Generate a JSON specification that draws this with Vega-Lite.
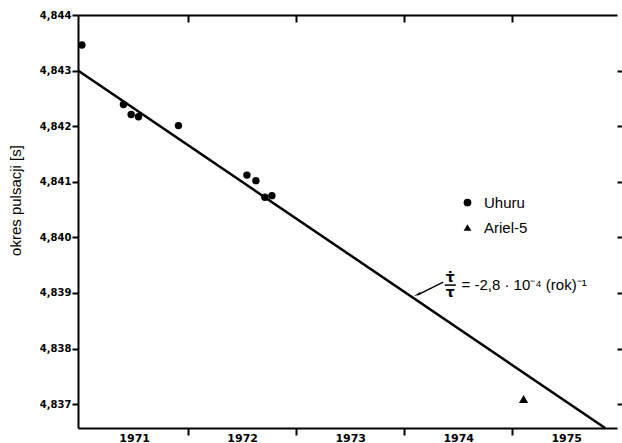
{
  "$schema": "https://vega.github.io/schema/vega-lite/v6.json",
  "width": 539,
  "height": 413,
  "autosize": "none",
  "padding": {"left": 78, "top": 15, "right": 5, "bottom": 15},
  "background": "white",
  "config": {
    "view": {"stroke": null},
    "font": "Liberation Sans",
    "axis": {
      "domainColor": "black",
      "tickColor": "black",
      "domainWidth": 2,
      "tickWidth": 2,
      "labelColor": "black",
      "titleColor": "black",
      "grid": false
    }
  },
  "datasets": {
    "pomiary": [
      {"rok": 1971.016, "okres": 4.84346, "satelita": "Uhuru"},
      {"rok": 1971.401, "okres": 4.84239, "satelita": "Uhuru"},
      {"rok": 1971.472, "okres": 4.84221, "satelita": "Uhuru"},
      {"rok": 1971.540, "okres": 4.84217, "satelita": "Uhuru"},
      {"rok": 1971.910, "okres": 4.84201, "satelita": "Uhuru"},
      {"rok": 1972.544, "okres": 4.84112, "satelita": "Uhuru"},
      {"rok": 1972.627, "okres": 4.84102, "satelita": "Uhuru"},
      {"rok": 1972.710, "okres": 4.84072, "satelita": "Uhuru"},
      {"rok": 1972.775, "okres": 4.84075, "satelita": "Uhuru"},
      {"rok": 1975.105, "okres": 4.83709, "satelita": "Ariel-5"}
    ],
    "dopasowanie": [
      {"rok": 1970.98, "okres": 4.84300},
      {"rok": 1975.86, "okres": 4.83657}
    ],
    "adnotacja": [{}]
  },
  "layer": [
    {
      "data": {"name": "pomiary"},
      "mark": {"type": "point", "filled": true, "color": "black", "opacity": 1},
      "encoding": {
        "x": {
          "field": "rok", "type": "quantitative",
          "scale": {"domain": [1970.98, 1975.97], "nice": false, "zero": false},
          "axis": {
            "orient": "bottom",
            "title": null,
            "values": [1971, 1972, 1973, 1974, 1975],
            "format": "d",
            "labelOffset": 54,
            "tickSize": 7,
            "labelPadding": -3,
            "labelFont": "DejaVu Sans",
            "labelFontWeight": "bold",
            "labelFontSize": 11,
            "labelFlush": false,
            "labelOverlap": false,
            "labelBound": false,
            "tickOpacity": {"condition": {"test": "datum.value < 1971.5", "value": 0}, "value": 1}
          }
        },
        "y": {
          "field": "okres", "type": "quantitative",
          "scale": {"domain": [4.83657, 4.844], "nice": false, "zero": false},
          "axis": {
            "orient": "left",
            "title": "okres pulsacji [s]",
            "titleFont": "Liberation Sans",
            "titleFontSize": 15,
            "titleFontWeight": "normal",
            "titleAngle": 270,
            "titleX": -63,
            "titleY": 185,
            "titleAlign": "center",
            "titleBaseline": "middle",
            "values": [4.837, 4.838, 4.839, 4.84, 4.841, 4.842, 4.843, 4.844],
            "labelExpr": "replace(format(datum.value, '.3f'), '.', ',')",
            "tickSize": 6,
            "labelPadding": 1,
            "labelFont": "DejaVu Sans",
            "labelFontWeight": "bold",
            "labelFontSize": 10,
            "labelFlush": false,
            "labelOverlap": false
          }
        },
        "shape": {
          "field": "satelita", "type": "nominal",
          "scale": {"domain": ["Uhuru", "Ariel-5"], "range": ["circle", "triangle-up"]},
          "legend": {
            "orient": "none",
            "legendX": 382,
            "legendY": 180,
            "title": null,
            "padding": 0,
            "labelFont": "Liberation Sans",
            "labelFontSize": 15,
            "labelColor": "black",
            "labelOffset": 9,
            "rowPadding": 9,
            "symbolSize": 60,
            "symbolFillColor": "black",
            "symbolStrokeColor": "black",
            "symbolOpacity": 1
          }
        },
        "size": {"condition": {"test": "datum.satelita === 'Ariel-5'", "value": 85}, "value": 55}
      }
    },
    {
      "data": {"name": "dopasowanie"},
      "mark": {"type": "line", "color": "black", "strokeWidth": 2.5, "clip": true},
      "encoding": {
        "x": {
          "field": "rok", "type": "quantitative",
          "scale": {"domain": [1970.98, 1975.97], "nice": false, "zero": false},
          "axis": {
            "orient": "top", "title": null, "labels": false,
            "values": [1972, 1973, 1974, 1975],
            "tickSize": -7
          }
        },
        "y": {
          "field": "okres", "type": "quantitative",
          "scale": {"domain": [4.83657, 4.844], "nice": false, "zero": false},
          "axis": {
            "orient": "right", "title": null, "labels": false, "domain": false,
            "values": [4.837, 4.838, 4.839, 4.84, 4.841, 4.842, 4.843],
            "tickSize": 5
          }
        }
      }
    },
    {
      "data": {"name": "adnotacja"},
      "mark": {"type": "rule", "color": "black", "strokeWidth": 1.5},
      "encoding": {
        "x": {"datum": 1974.361, "type": "quantitative", "scale": {"domain": [1970.98, 1975.97], "nice": false, "zero": false}, "axis": null},
        "x2": {"datum": 1974.12},
        "y": {"datum": 4.839195, "type": "quantitative", "scale": {"domain": [4.83657, 4.844], "nice": false, "zero": false}, "axis": null},
        "y2": {"datum": 4.83896}
      }
    },
    {
      "data": {"name": "adnotacja"},
      "mark": {"type": "point", "shape": "wedge", "filled": true, "color": "black", "opacity": 1, "size": 80, "angle": 244},
      "encoding": {
        "x": {"datum": 1974.13, "type": "quantitative", "scale": {"domain": [1970.98, 1975.97], "nice": false, "zero": false}, "axis": null},
        "y": {"datum": 4.838979, "type": "quantitative", "scale": {"domain": [4.83657, 4.844], "nice": false, "zero": false}, "axis": null}
      }
    },
    {
      "data": {"name": "adnotacja"},
      "mark": {"type": "text", "text": "τ̇", "font": "DejaVu Sans", "fontWeight": "bold", "fontSize": 14, "align": "center", "baseline": "middle", "color": "black"},
      "encoding": {
        "x": {"datum": 1974.426, "type": "quantitative", "scale": {"domain": [1970.98, 1975.97], "nice": false, "zero": false}, "axis": null},
        "y": {"datum": 4.839275, "type": "quantitative", "scale": {"domain": [4.83657, 4.844], "nice": false, "zero": false}, "axis": null}
      }
    },
    {
      "data": {"name": "adnotacja"},
      "mark": {"type": "text", "text": "τ", "font": "DejaVu Sans", "fontWeight": "bold", "fontSize": 14, "align": "center", "baseline": "middle", "color": "black"},
      "encoding": {
        "x": {"datum": 1974.426, "type": "quantitative", "scale": {"domain": [1970.98, 1975.97], "nice": false, "zero": false}, "axis": null},
        "y": {"datum": 4.838997, "type": "quantitative", "scale": {"domain": [4.83657, 4.844], "nice": false, "zero": false}, "axis": null}
      }
    },
    {
      "data": {"name": "adnotacja"},
      "mark": {"type": "rule", "color": "black", "strokeWidth": 1.5},
      "encoding": {
        "x": {"datum": 1974.375, "type": "quantitative", "scale": {"domain": [1970.98, 1975.97], "nice": false, "zero": false}, "axis": null},
        "x2": {"datum": 1974.478},
        "y": {"datum": 4.839141, "type": "quantitative", "scale": {"domain": [4.83657, 4.844], "nice": false, "zero": false}, "axis": null}
      }
    },
    {
      "data": {"name": "adnotacja"},
      "mark": {"type": "text", "text": "= -2,8 · 10⁻⁴ (rok)⁻¹", "font": "Liberation Sans", "fontSize": 15, "align": "left", "baseline": "middle", "color": "black"},
      "encoding": {
        "x": {"datum": 1974.53, "type": "quantitative", "scale": {"domain": [1970.98, 1975.97], "nice": false, "zero": false}, "axis": null},
        "y": {"datum": 4.839141, "type": "quantitative", "scale": {"domain": [4.83657, 4.844], "nice": false, "zero": false}, "axis": null}
      }
    }
  ],
  "resolve": {"axis": {"x": "independent", "y": "independent"}}
}
